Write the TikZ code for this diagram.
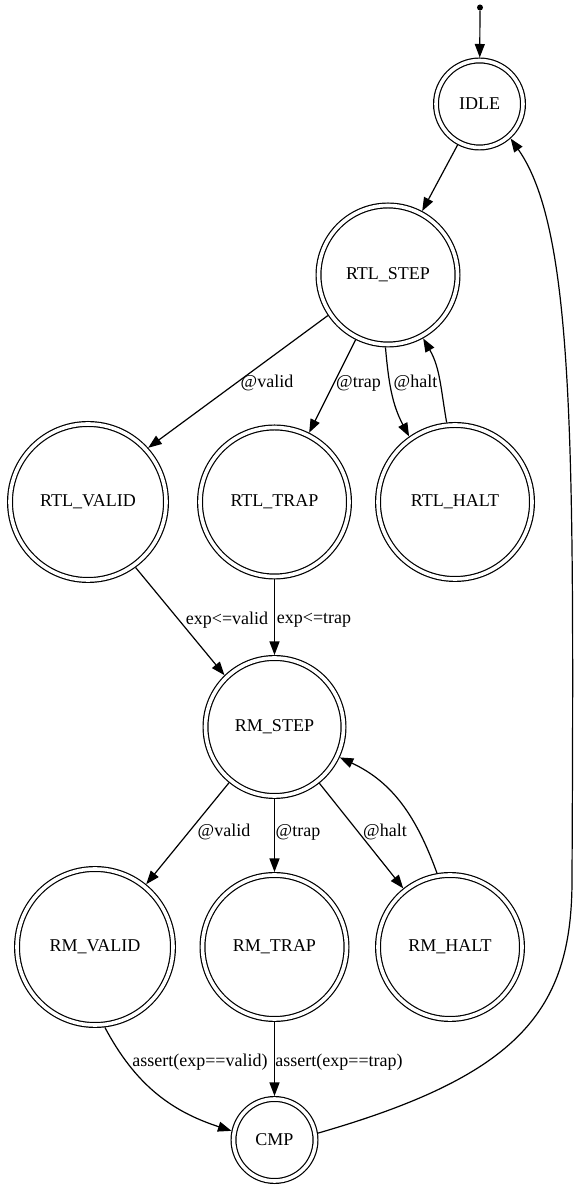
\documentclass[tikz,border=0pt]{standalone}
\usepackage{fontspec}
\setmainfont{Liberation Serif}
\usetikzlibrary{arrows.meta}
\begin{document}
\begin{tikzpicture}[x=1pt, y=1pt,
  txt/.style={font=\fontsize{18}{21.6}\selectfont},
  fsm/.style={txt, circle, draw, double, double distance=3.6pt, line width=1.2pt,
              inner sep=0pt, outer sep=3pt, minimum size=#1},
  conn/.style={line width=1.2pt, -{Triangle[length=13.5pt, width=10pt]}},
  lbl/.style={txt, inner sep=0pt}]
\useasboundingbox (0,0) rectangle (576,1192);

% states
\node[circle, fill, inner sep=0pt, minimum size=6pt] (start) at (480,1184.5) {};
\node[fsm=87]  (idle)     at (479.5,1088) {IDLE};
\node[fsm=139] (rtlstep)  at (388,917)    {RTL\_STEP};
\node[fsm=156] (rtlvalid) at (88,690)     {RTL\_VALID};
\node[fsm=149] (rtltrap)  at (274.5,690)  {RTL\_TRAP};
\node[fsm=154] (rtlhalt)  at (455,690)    {RTL\_HALT};
\node[fsm=138] (rmstep)   at (274.5,465)  {RM\_STEP};
\node[fsm=156] (rmvalid)  at (95,245)     {RM\_VALID};
\node[fsm=144] (rmtrap)   at (274.5,245)  {RM\_TRAP};
\node[fsm=144] (rmhalt)   at (450,245)    {RM\_HALT};
\node[fsm=82]  (cmp)      at (274.5,52)   {CMP};
\coordinate (rim) at (572,312);

% transitions
\draw[conn] (start) -- (idle);
\draw[conn] (idle) -- (rtlstep);
\draw[conn] (rtlstep.214) -- (rtlvalid.42);
\draw[conn] (rtlstep) -- (rtltrap);
\draw[conn] (rtlstep.268) to[out=-85, in=118] (rtlhalt.125);
\draw[conn] (rtlhalt.96) to[out=100, in=-60] (rtlstep.-61);
\draw[conn] (rtlvalid.-54) -- (rmstep.134);
\draw[conn] (rtltrap) -- (rmstep);
\draw[conn] (rmstep) -- (rmvalid);
\draw[conn] (rmstep) -- (rmtrap);
\draw[conn] (rmstep) -- (rmhalt);
\draw[conn] (rmhalt.100) to[out=110, in=-25] (rmstep.-25);
\draw[conn] (rmvalid.-83) to[out=-62, in=162] (cmp.168);
\draw[conn] (rmtrap) -- (cmp);
\draw[conn] (cmp.9) .. controls (520,117) and (572,182) .. (rim)
                    .. controls (574,742) and (575,962) .. (idle.-48);

% transition labels
\node[lbl] (l1)  at (267,809) {@valid};
\node[lbl] (l2)  at (358.5,809) {@trap};
\node[lbl] (l3)  at (415.5,809) {@halt};
\node[lbl] (l4)  at (227,572) {exp<=valid};
\node[lbl] (l5)  at (314,572) {exp<=trap};
\node[lbl] (l6)  at (224,360) {@valid};
\node[lbl] (l7)  at (298,360) {@trap};
\node[lbl] (l8)  at (385,360) {@halt};
\node[lbl] (l9)  at (200,130) {assert(exp==valid)};
\node[lbl] (l10) at (339,130) {assert(exp==trap)};
\end{tikzpicture}
\end{document}
